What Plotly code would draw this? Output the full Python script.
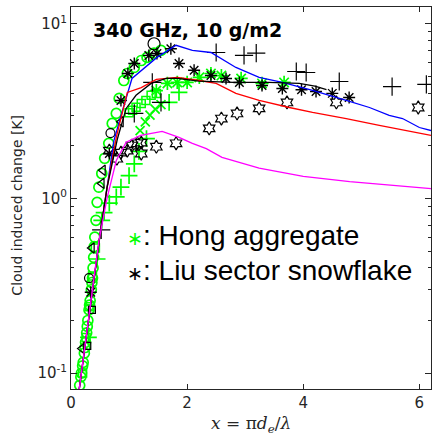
import numpy as np
import plotly.graph_objects as go

# ---------------- data ----------------
blue_x = [0.14, 0.25, 0.35, 0.5, 0.62, 0.74, 0.9, 1.05, 1.48, 1.81, 2.09, 2.41, 2.84, 3.24, 3.64, 4.16, 4.74, 5.14, 5.48, 5.71, 6.0, 6.2]
blue_y = [0.08, 0.15, 0.27, 0.62, 1.15, 2.15, 3.3, 4.87, 6.43, 7.54, 7.05, 6.86, 5.63, 4.94, 4.62, 4.16, 3.65, 3.32, 2.99, 2.87, 2.55, 2.45]

red_x = [0.14, 0.25, 0.35, 0.5, 0.62, 0.78, 0.97, 1.21, 1.47, 1.83, 2.21, 2.5, 2.84, 3.24, 3.76, 4.16, 4.74, 5.31, 6.2]
red_y = [0.08, 0.15, 0.27, 0.62, 1.15, 2.24, 4.05, 4.32, 4.81, 4.94, 4.74, 4.56, 4.0, 3.65, 3.32, 3.11, 2.87, 2.62, 2.30]

black_x = [0.14, 0.25, 0.35, 0.5, 0.62, 0.8, 0.95, 1.12, 1.38, 1.64, 1.83, 2.2, 2.8, 3.4, 3.93, 4.2, 4.4]
black_y = [0.08, 0.15, 0.27, 0.62, 1.15, 2.2, 3.28, 3.9, 4.56, 4.87, 4.87, 4.7, 4.62, 4.62, 4.56, 4.4, 4.2]

magenta_x = [0.14, 0.25, 0.36, 0.48, 0.62, 0.78, 0.95, 1.2, 1.57, 1.86, 2.09, 2.33, 2.6, 3.24, 4.0, 4.8, 6.2]
magenta_y = [0.08, 0.15, 0.29, 0.57, 1.0, 1.65, 2.1, 2.3, 2.42, 2.24, 2.07, 1.93, 1.72, 1.49, 1.34, 1.25, 1.14]

# Hong aggregate (green markers)
hong_o_x = [0.15, 0.17, 0.18, 0.20, 0.21, 0.23, 0.24, 0.25, 0.27, 0.28, 0.29, 0.31, 0.32, 0.33, 0.35, 0.36, 0.37, 0.38, 0.39, 0.40, 0.41, 0.43, 0.45, 0.48, 0.53, 0.58, 0.65, 0.71, 0.78, 0.83, 0.91, 0.97, 1.09, 1.21, 1.31, 1.43, 1.55]
hong_o_y = [0.085, 0.095, 0.10, 0.11, 0.115, 0.13, 0.14, 0.15, 0.17, 0.185, 0.20, 0.23, 0.245, 0.26, 0.30, 0.33, 0.35, 0.40, 0.46, 0.53, 0.60, 0.75, 0.95, 1.16, 1.39, 1.70, 2.07, 2.69, 3.07, 3.74, 4.74, 5.20, 5.63, 6.17, 6.43, 6.80, 7.05]

hong_sq_x = [0.2, 0.26, 0.32, 0.37, 0.42, 1.0, 1.06, 1.12, 1.21, 1.29, 1.38, 1.47]
hong_sq_y = [0.10, 0.16, 0.24, 0.36, 0.52, 3.1, 3.2, 3.33, 3.5, 3.64, 3.9, 4.0]

hong_x_x = [1.19, 1.28, 1.36, 1.45, 1.55]
hong_x_y = [2.45, 2.75, 3.0, 3.25, 3.45]

hong_p_x = [0.30, 0.45, 0.53, 0.57, 0.66, 0.78, 0.86, 1.0, 1.09, 1.17, 1.3, 1.69, 1.86]
hong_p_y = [0.16, 0.45, 0.75, 0.83, 0.94, 1.02, 1.16, 1.35, 1.58, 1.86, 2.2, 3.55, 4.05]

hong_a_x = [1.47, 1.66, 1.83, 2.0, 2.21, 2.41, 2.59, 2.93, 3.29, 3.67]
hong_a_y = [4.15, 4.56, 4.62, 4.62, 4.94, 5.2, 5.06, 4.87, 4.56, 4.62]

# Liu sector snowflake (black markers)
liu_o_x = [0.31, 0.68, 1.43]
liu_o_y = [0.35, 2.37, 7.7]

liu_tri_x = [0.19, 0.36, 0.53, 0.55, 0.86]
liu_tri_y = [0.138, 0.52, 1.22, 1.45, 2.75]

liu_sq_x = [0.28, 0.36]
liu_sq_y = [0.143, 0.23]

liu_p_x = [0.52, 1.09, 1.40, 1.55, 2.5, 2.98, 3.19, 3.88, 4.05, 4.62, 5.53, 6.12]
liu_p_y = [0.66, 3.07, 4.62, 3.55, 6.86, 6.6, 6.8, 5.34, 5.27, 4.68, 4.37, 4.5]

liu_h_x = [0.66, 0.79, 0.86, 0.97, 1.05, 1.14, 1.21, 1.21, 1.47, 1.81, 2.38, 2.59, 2.86, 3.24, 3.72, 4.57, 5.98]
liu_h_y = [1.88, 1.69, 1.83, 1.88, 2.01, 2.07, 2.09, 1.81, 1.98, 2.07, 2.52, 2.87, 3.07, 3.28, 3.55, 3.55, 3.32]

liu_a_x = [0.34, 0.66, 0.86, 0.98, 1.09, 1.34, 1.48, 1.72, 1.86, 2.12, 2.41, 2.67, 2.9, 3.29, 3.64, 3.97, 4.22, 4.5, 4.79]
liu_a_y = [0.29, 1.81, 3.64, 5.2, 5.93, 6.6, 6.77, 7.2, 5.93, 5.43, 5.06, 4.87, 4.62, 4.44, 4.27, 4.2, 4.1, 4.0, 3.79]

x_ticks = [0, 2, 4, 6]
y_ticks = [0.1, 1, 10]
y_ticktext = ["10<sup>-1</sup>", "10<sup>0</sup>", "10<sup>1</sup>"]
title_text = "340 GHz, 10 g/m2"
legend_1 = "Hong aggregate"
legend_2 = "Liu sector snowflake"
x_title = "<i>x</i> = π<i>d</i><sub><i>e</i></sub>/<i>λ</i>"
y_title = "Cloud induced change [K]"

GREEN = "#00ff00"
BLACK = "#000000"

fig = go.Figure()

def mk(x, y, symbol, color, size, lw=1.4):
    fig.add_trace(go.Scatter(x=x, y=y, mode="markers",
                             marker=dict(symbol=symbol, size=size, color=color,
                                         line=dict(color=color, width=lw)),
                             showlegend=False, hoverinfo="skip"))

# green markers
mk(hong_o_x, hong_o_y, "circle-open", GREEN, 10, 1.7)
mk(hong_sq_x, hong_sq_y, "square-open", GREEN, 8, 1.5)
mk(hong_x_x, hong_x_y, "x-thin-open", GREEN, 9, 1.7)
mk(hong_p_x, hong_p_y, "cross-thin-open", GREEN, 12, 1.7)
mk(hong_a_x, hong_a_y, "asterisk-open", GREEN, 11, 1.7)

# black markers
mk(liu_o_x[:2], liu_o_y[:2], "circle-open", BLACK, 9, 1.2)
mk(liu_o_x[2:], liu_o_y[2:], "circle-open", BLACK, 12, 1.2)
mk(liu_tri_x, liu_tri_y, "triangle-left-open", BLACK, 9, 1.2)
mk(liu_sq_x, liu_sq_y, "square-open", BLACK, 7, 1.2)
mk(liu_p_x, liu_p_y, "cross-thin-open", BLACK, 13, 1.2)
mk(liu_h_x, liu_h_y, "hexagram-open", BLACK, 10, 1.2)
mk(liu_a_x, liu_a_y, "asterisk-open", BLACK, 10, 1.4)

# lines
for xs, ys, c in [(blue_x, blue_y, "#0000ff"), (red_x, red_y, "#ff0000"),
                  (black_x, black_y, "#000000"), (magenta_x, magenta_y, "#ff00ff")]:
    fig.add_trace(go.Scatter(x=xs, y=ys, mode="lines", line=dict(color=c, width=1.3),
                             showlegend=False, hoverinfo="skip"))

AXC = "#262626"
fig.update_layout(
    width=432, height=436,
    margin=dict(l=71, r=1, t=7, b=47, autoexpand=False),
    paper_bgcolor="white", plot_bgcolor="white",
    font=dict(family="DejaVu Sans", color=AXC),
    xaxis=dict(range=[0, 6.2], tickvals=x_ticks, ticks="inside", ticklen=5,
               tickcolor=AXC, showline=True, linecolor=AXC, linewidth=1, mirror="ticks",
               showgrid=False, zeroline=False, tickfont=dict(size=15, color=AXC),
               automargin=False),
    yaxis=dict(type="log", range=[np.log10(0.081), np.log10(12.5)],
               tickvals=y_ticks, ticktext=y_ticktext, ticks="inside", ticklen=6,
               tickcolor=AXC, showline=True, linecolor=AXC, linewidth=1, mirror="ticks",
               showgrid=False, zeroline=False, tickfont=dict(size=15, color=AXC),
               minor=dict(ticks="inside", ticklen=3, tickcolor=AXC, showgrid=False,
                          tickvals=[v * d for d in (0.1, 1) for v in range(2, 10)]),
               automargin=False),
)

# axis titles as annotations (pixel-placed)
fig.add_annotation(xref="paper", yref="paper", x=0.5, y=-0.092, xanchor="center", yanchor="middle",
                   text=x_title, showarrow=False,
                   font=dict(family="DejaVu Serif", size=17, color=AXC))
fig.add_annotation(xref="paper", yref="paper", x=-0.15, y=0.48, xanchor="center", yanchor="middle",
                   text=y_title, showarrow=False, textangle=-90,
                   font=dict(family="DejaVu Sans", size=14, color=AXC))

fig.add_annotation(xref="paper", yref="paper", x=0.055, y=0.94, xanchor="left", yanchor="middle",
                   text="<b>" + title_text + "</b>", showarrow=False,
                   font=dict(family="DejaVu Sans", size=19, color="black"))
fig.add_annotation(xref="paper", yref="paper", x=0.15, y=0.403, xanchor="left", yanchor="middle",
                   text="<span style='color:#00ff00;font-size:19px'>∗</span>: " + legend_1, showarrow=False,
                   font=dict(family="Liberation Sans", size=28, color="black"))
fig.add_annotation(xref="paper", yref="paper", x=0.15, y=0.3115, xanchor="left", yanchor="middle",
                   text="<span style='font-size:19px'>∗</span>: " + legend_2, showarrow=False,
                   font=dict(family="Liberation Sans", size=28, color="black"))

fig.write_html("out.html", config={"displayModeBar": False},
               post_script="document.body.style.margin='0';document.body.style.overflow='hidden';")
